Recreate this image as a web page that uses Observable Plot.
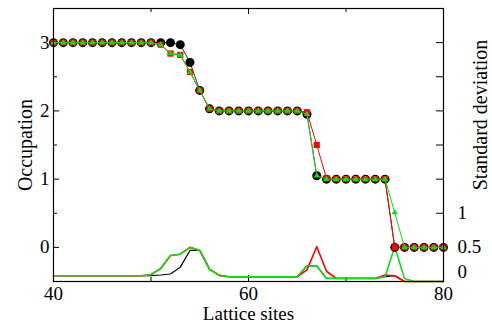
<!DOCTYPE html>
<html><head><meta charset="utf-8">
<script src="https://cdn.jsdelivr.net/npm/d3@7"></script>
<script src="https://cdn.jsdelivr.net/npm/@observablehq/plot@0.6"></script>
<style>body{margin:0;background:#fff;}</style>
</head><body><div id="chart"></div>
<script>
// Lattice sites 40..80
const sites = d3.range(40, 81);

// Occupation (left axis)
const occBlack = [3,3,3,3,3,3,3,3,3,3,3,3,3, 2.97,2.71,2.30,2.03, 2,2,2,2,2,2,2,2,2, 1.95,1.05, 1,1,1,1,1,1,1, 0,0,0,0,0,0];
const occRed   = [3,3,3,3,3,3,3,3,3,3,3, 2.97,2.84,2.82,2.57,2.30,2.03, 2,2,2,2,2,2,2,2,2, 1.98,1.50, 1.01,1,1,1,1,1,1, 0,0,0,0,0,0];
const occGreen = [3,3,3,3,3,3,3,3,3,3,3, 2.97,2.84,2.82,2.57,2.30,2.03, 2,2,2,2,2,2,2,2,2, 1.95,1.05, 1,1,1,1,1,1,1, 0.51, 0,0,0,0,0];

// Standard deviation (right axis)
const stdBlack = [0.085,0.085,0.085,0.085,0.085,0.085,0.085,0.085,0.085,0.085,0.085, 0.095,0.11,0.21,0.455,0.455,0.18,0.09, 0.07,0.07,0.07,0.07,0.07,0.07,0.07, 0.07,0.23,0.23,0.045, 0.045,0.045,0.045,0.045,0.045, 0.07,0.085,0, 0,0,0,0];
const stdRed   = [0.085,0.085,0.085,0.085,0.085,0.085,0.085,0.085,0.085,0.085, 0.10,0.19,0.38,0.40,0.50,0.455,0.18,0.09, 0.07,0.07,0.07,0.07,0.07,0.07,0.07, 0.07,0.17,0.51,0.15, 0.045,0.045,0.045,0.045,0.045, 0.095,0.085,0, 0,0,0,0];
const stdGreen = [0.085,0.085,0.085,0.085,0.085,0.085,0.085,0.085,0.085,0.085, 0.10,0.19,0.38,0.40,0.50,0.455,0.18,0.09, 0.07,0.07,0.07,0.07,0.07,0.07,0.07, 0.07,0.23,0.23,0.045, 0.045,0.045,0.045,0.045,0.045, 0.07,0.51,0.045, 0,0,0,0];

// Ticks and labels
const xLabelTicks = [40, 60, 80];
const xMinorTicks = [50, 70];
const yLabelTicks = [0, 1, 2, 3];
const yMinorTicks = [0.5, 1.5, 2.5];
const stdTicks = [0.5, 1, 1.5, 2, 2.5, 3, 3.5];
const stdLabelTicks = [0.5, 1];
const stdZeroLabel = [0];

const W = 492, H = 325;
const mL = 53, mR = 49, mT = 8, mB = 44;
const fw = W - mL - mR, fh = H - mT - mB;
const GREEN = "#11dd11", RED = "#ff0000";
const stdToOcc = v => v - 0.5;

const chart = Plot.plot({
  width: W, height: H,
  marginLeft: mL, marginRight: mR, marginTop: mT, marginBottom: mB,
  style: {fontFamily: "'Liberation Serif', serif", fontSize: "19px", background: "#fff", color: "black"},
  x: {domain: [40, 80]},
  y: {domain: [-0.5, 3.5]},
  marks: [
    // ticks (inward)
    Plot.tickX(xLabelTicks, {x: d => d, insetTop: fh - 6, stroke: "black"}),
    Plot.tickX(xLabelTicks, {x: d => d, insetBottom: fh - 6, stroke: "black"}),
    Plot.tickX(xMinorTicks, {x: d => d, insetTop: fh - 4, stroke: "black"}),
    Plot.tickX(xMinorTicks, {x: d => d, insetBottom: fh - 4, stroke: "black"}),
    Plot.tickY(yLabelTicks, {y: d => d, insetRight: fw - 6, stroke: "black"}),
    Plot.tickY(yMinorTicks, {y: d => d, insetRight: fw - 4, stroke: "black"}),
    Plot.tickY(stdTicks, {y: d => stdToOcc(d), insetLeft: fw - 7, stroke: "black"}),
    // tick labels
    Plot.axisX({ticks: xLabelTicks, tickSize: 0, tickPadding: 5, tickFormat: d => String(d), label: null, fontSize: 19}),
    Plot.axisY({anchor: "left", ticks: yLabelTicks, tickSize: 0, tickPadding: 4, tickFormat: d => String(d), label: null, fontSize: 19}),
    Plot.axisY({anchor: "right", ticks: stdLabelTicks.map(stdToOcc), tickFormat: d => String(+(d + 0.5).toFixed(2)), tickSize: 0, tickPadding: 14, label: null, fontSize: 19}),
    Plot.text(stdZeroLabel, {y: d => stdToOcc(d), frameAnchor: "right", dx: 14, dy: -10, text: d => String(d), textAnchor: "start", fontSize: 19}),
    // axis titles
    Plot.text(["Lattice sites"], {frameAnchor: "bottom", dy: 38, lineAnchor: "bottom", textAnchor: "middle", fontSize: 19}),
    Plot.text(["Occupation"], {frameAnchor: "left", rotate: -90, dx: -21.5, lineAnchor: "bottom", textAnchor: "middle", fontSize: 20}),
    Plot.text(["Standard deviation"], {frameAnchor: "right", rotate: -90, dx: 43, dy: -30, lineAnchor: "bottom", textAnchor: "middle", fontSize: 20}),
    // standard deviation curves
    Plot.line(sites, {x: d => d, y: (d, i) => stdToOcc(stdBlack[i]), stroke: "black", strokeWidth: 1.2}),
    Plot.line(sites, {x: d => d, y: (d, i) => stdToOcc(stdRed[i]), stroke: RED, strokeWidth: 1.6}),
    Plot.line(sites, {x: d => d, y: (d, i) => stdToOcc(stdGreen[i]), stroke: GREEN, strokeWidth: 1.6}),
    // occupation curves
    Plot.line(sites, {x: d => d, y: (d, i) => occBlack[i], stroke: "#333", strokeWidth: 1}),
    Plot.dot(sites, {x: d => d, y: (d, i) => occBlack[i], r: 4.5, fill: "black", stroke: "none"}),
    Plot.line(sites, {x: d => d, y: (d, i) => occRed[i], stroke: RED, strokeWidth: 1}),
    Plot.dot(sites, {x: d => d, y: (d, i) => occRed[i], symbol: "square", r: 3.5, fill: RED, stroke: "none"}),
    Plot.line(sites, {x: d => d, y: (d, i) => occGreen[i], stroke: GREEN, strokeWidth: 1}),
    Plot.dot(sites, {x: d => d, y: (d, i) => occGreen[i], symbol: "triangle", r: 2.3, fill: GREEN, stroke: "none"}),
    Plot.frame({stroke: "black", strokeWidth: 1.2})
  ]
});
document.getElementById("chart").appendChild(chart);
</script>
</body></html>
